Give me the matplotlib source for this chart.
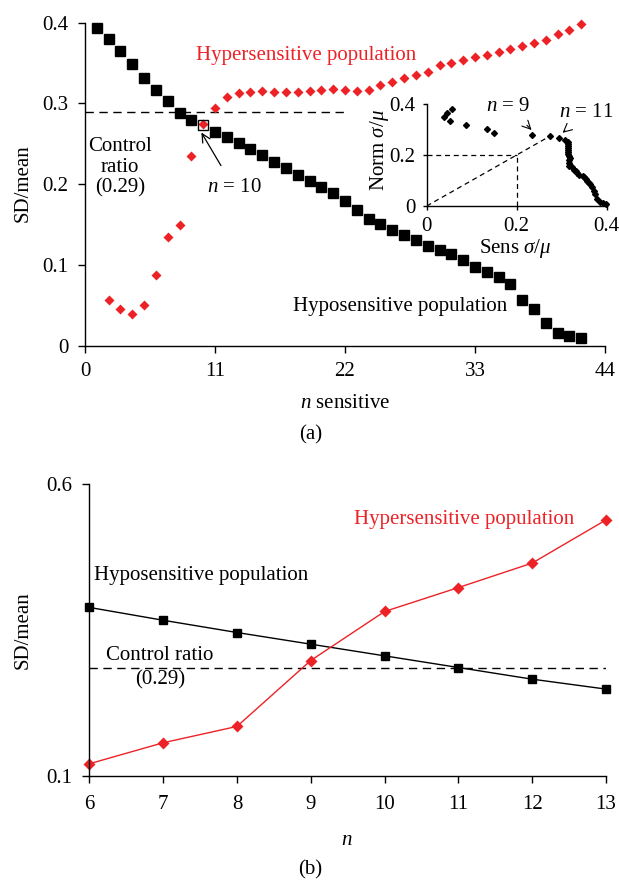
import matplotlib
matplotlib.use("Agg")
import matplotlib.pyplot as plt
import numpy as np

plt.rcParams['font.family'] = ['Liberation Serif', 'DejaVu Serif']
plt.rcParams['mathtext.fontset'] = 'custom'
plt.rcParams['mathtext.rm'] = 'Liberation Serif'
plt.rcParams['mathtext.it'] = 'Liberation Serif:italic'

RED = '#ec2227'

# ---- panel (a) data ----
n_hypo = list(range(1, 43))
sd_hypo = [0.394, 0.380, 0.365, 0.349, 0.332, 0.317, 0.303, 0.288, 0.280, 0.273,
           0.265, 0.259, 0.251, 0.244, 0.236, 0.228, 0.220, 0.212, 0.204, 0.197,
           0.189, 0.179, 0.168, 0.157, 0.151, 0.143, 0.137, 0.131, 0.123, 0.119,
           0.113, 0.106, 0.098, 0.091, 0.085, 0.076, 0.057, 0.046, 0.028, 0.016,
           0.012, 0.009]
n_hyper = list(range(2, 43))
sd_hyper = [0.056, 0.045, 0.039, 0.051, 0.088, 0.135, 0.149, 0.235, 0.274,
            0.294, 0.308, 0.313, 0.314, 0.315, 0.314, 0.314, 0.314, 0.315, 0.317,
            0.318, 0.317, 0.316, 0.317, 0.323, 0.327, 0.331, 0.335, 0.339, 0.348,
            0.350, 0.354, 0.357, 0.360, 0.364, 0.368, 0.371, 0.375, 0.379, 0.386,
            0.391, 0.398]
control_a = 0.29

# ---- panel (b) data ----
n_b = [6, 7, 8, 9, 10, 11, 12, 13]
hypo_b = [0.389, 0.367, 0.346, 0.326, 0.306, 0.286, 0.266, 0.249]
hyper_b = [0.121, 0.157, 0.185, 0.298, 0.382, 0.423, 0.465, 0.539]
control_b = 0.286

FS = 15
W, H = 619, 888

fig = plt.figure(figsize=(6.19, 8.88), dpi=100)


def style_axes(ax, length=5):
    for s in ['top', 'right']:
        ax.spines[s].set_visible(False)
    for s in ['left', 'bottom']:
        ax.spines[s].set_linewidth(1.0)
    ax.tick_params(direction='out', length=length, width=1, labelsize=FS, pad=7)


def ftext(x, y, s, **kw):
    # place text by pixel position in the figure
    fig.text(x / W, 1 - y / H, s, fontsize=FS, ha='center', va='center', **kw)


# ================= panel (a) =================
ax = fig.add_axes([0.1373, 0.6107, 0.840, 0.3637])
style_axes(ax)
ax.set_xlim(0, 44)
ax.set_ylim(0, 0.4)
ax.set_xticks([0, 11, 22, 33, 44])
ax.set_yticks([0, 0.1, 0.2, 0.3, 0.4])
ax.set_yticklabels(['0', '0.1', '0.2', '0.3', '0.4'])

ax.plot([0, 22], [control_a, control_a], ls=(0, (6, 4)), color='black', lw=1)

hx = np.array(n_hypo)
hy = np.array(sd_hypo)
hollow = hx == 10
ax.plot(hx[~hollow], hy[~hollow], 's', color='black', ms=6.7, ls='none',
        clip_on=False)
ax.plot(n_hyper, sd_hyper, 'D', color=RED, ms=5.2, ls='none', mec='none',
        clip_on=False)
ax.plot(hx[hollow], hy[hollow], 's', mfc='none', mec='black', ms=6.7, mew=1,
        ls='none')

ax.text(9.4, 0.359, 'Hypersensitive population', color=RED, fontsize=FS,
        ha='left', va='center')
ax.text(17.6, 0.048, 'Hyposensitive population', color='black', fontsize=FS,
        ha='left', va='center')
ax.text(2.95, 0.221, 'Control\nratio\n(0.29)', fontsize=FS, ha='center',
        va='center', linespacing=1.1)
ax.annotate('$n$ = 10', xy=(9.85, 0.264), xytext=(12.6, 0.196), fontsize=FS,
            ha='center', va='center',
            arrowprops=dict(arrowstyle='->', color='black', lw=0.9,
                            shrinkA=8, shrinkB=0))

ftext(345, 403, '$n$ sensitive')
ftext(23, 183, 'SD/mean', rotation=90)
ftext(311, 435, '(a)')

# ---- inset ----
ins = fig.add_axes([0.6893, 0.768, 0.2908, 0.1149])
style_axes(ins, length=3)
ins.patch.set_alpha(0)
ins.set_xlim(0, 0.4)
ins.set_ylim(0, 0.4)
ins.set_xticks([0, 0.2, 0.4])
ins.set_yticks([0, 0.2, 0.4])
ins.set_xticklabels(['0', '0.2', '0.4'])
ins.set_yticklabels(['0', '0.2', '0.4'])
ins.tick_params(pad=5)
# inset: hypersensitive vs normal SD/mean for the same n
sens = sd_hyper
norm = sd_hypo[1:]
ins.plot(sens, norm, 'D', color='black', ms=3.0, ls='none', clip_on=False)
ins.plot([0, 0.2], [0.2, 0.2], ls=(0, (4, 3)), color='black', lw=0.9)
ins.plot([0.2, 0.2], [0, 0.2], ls=(0, (4, 3)), color='black', lw=0.9)
ins.plot([0, 0.268], [0, 0.268], ls=(0, (4, 3)), color='black', lw=0.9)
ins.annotate('$n$ = 9', xy=(0.233, 0.298), xytext=(0.181, 0.392), fontsize=FS,
             ha='center', va='center', annotation_clip=False,
             arrowprops=dict(arrowstyle='->', color='black', lw=0.8,
                             shrinkA=7, shrinkB=0))
ins.annotate('$n$ = 11', xy=(0.302, 0.287), xytext=(0.355, 0.368), fontsize=FS,
             ha='center', va='center', annotation_clip=False,
             arrowprops=dict(arrowstyle='->', color='black', lw=0.8,
                             shrinkA=7, shrinkB=0))
ftext(515, 248, 'Sens $\\sigma/\\mu$')
ftext(380, 150, 'Norm $\\sigma/\\mu$', rotation=90)

# ================= panel (b) =================
bx = fig.add_axes([0.1443, 0.1261, 0.8347, 0.3285])
style_axes(bx)
bx.set_xlim(6, 13)
bx.set_ylim(0.1, 0.6)
bx.set_xticks(n_b)
bx.set_yticks([0.1, 0.6])
bx.set_yticklabels(['0.1', '0.6'])
bx.tick_params(axis='x', pad=9)

bx.axhline(control_b, ls=(0, (6, 4)), color='black', lw=1)
bx.plot(n_b, hypo_b, '-s', color='black', ms=6.2, lw=1, clip_on=False)
bx.plot(n_b, hyper_b, '-D', color=RED, ms=5.8, lw=1, mec='none', clip_on=False)

bx.text(11.08, 0.539, 'Hypersensitive population', color=RED, fontsize=FS,
        ha='center', va='center')
bx.text(6.07, 0.443, 'Hyposensitive population', color='black', fontsize=FS,
        ha='left', va='center')
bx.text(6.96, 0.307, 'Control ratio', fontsize=FS, ha='center', va='center')
bx.text(6.96, 0.265, '(0.29)', fontsize=FS, ha='center', va='center')

ftext(347, 840, '$n$')
ftext(23, 630, 'SD/mean', rotation=90)
ftext(310, 870, '(b)')

fig.savefig('out.png', dpi=100)
